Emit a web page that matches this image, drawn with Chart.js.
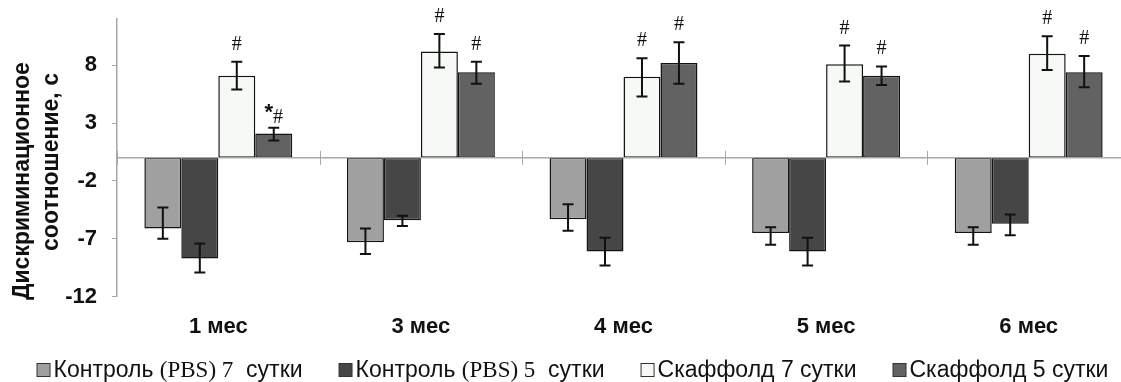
<!DOCTYPE html>
<html>
<head>
<meta charset="utf-8">
<script src="https://cdn.jsdelivr.net/npm/chart.js@4.4.0/dist/chart.umd.min.js"></script>
<style>
  html, body { margin: 0; padding: 0; background: #ffffff; overflow: hidden; }
  #wrap { width: 1135px; height: 382px; }
</style>
</head>
<body>
<div id="wrap"><canvas id="c" width="1135" height="382"></canvas></div>
<script>
// ---- data ----
const categories = ['1 мес', '3 мес', '4 мес', '5 мес', '6 мес'];
const yTicks = [-12, -7, -2, 3, 8];

const control7 = [-6.1, -7.3, -5.3, -6.5, -6.5];
const control5 = [-8.7, -5.4, -8.1, -8.1, -5.7];
const scaffold7 = [7.1, 9.2, 7.0, 8.1, 9.0];
const scaffold5 = [2.1, 7.4, 8.2, 7.1, 7.4];

// error bar ends (upper / lower)
const control7Hi = [-4.3, -6.1, -4.0, -6.0, -6.0];
const control7Lo = [-7.0, -8.3, -6.3, -7.5, -7.5];
const control5Hi = [-7.4, -5.0, -6.9, -6.9, -4.9];
const control5Lo = [-9.9, -5.9, -9.3, -9.3, -6.7];
const scaffold7Hi = [8.3, 10.7, 8.6, 9.7, 10.5];
const scaffold7Lo = [5.9, 7.8, 5.3, 6.6, 7.6];
const scaffold5Hi = [2.6, 8.3, 10.0, 7.9, 8.8];
const scaffold5Lo = [1.5, 6.4, 6.4, 6.3, 6.1];

// significance marks
const scaffold7Sig = ['#', '#', '#', '#', '#'];
const scaffold5Sig = ['*#', '#', '#', '#', '#'];

const yTitleLines = ['Дискриминационное', 'соотношение, с'];
const legendItems = [
  [['Контроль ', 'sans'], ['(PBS) 7', 'serif'], ['  сутки', 'sans']],
  [['Контроль ', 'sans'], ['(PBS) 5', 'serif'], ['  сутки', 'sans']],
  [['Скаффолд 7 сутки', 'sans']],
  [['Скаффолд 5 сутки', 'sans']]
];

const colors = ['#a0a0a0', '#464646', '#f7f9f7', '#626262'];
const errHi = [control7Hi, control5Hi, scaffold7Hi, scaffold5Hi];
const errLo = [control7Lo, control5Lo, scaffold7Lo, scaffold5Lo];
const sigs = [null, null, scaffold7Sig, scaffold5Sig];

const SANS = '"Liberation Sans", Arial, sans-serif';
const SERIF = '"Liberation Serif", "Times New Roman", serif';
const AXIS_GRAY = '#a8a8a8';

const errorBarPlugin = {
  id: 'errorBars',
  afterDatasetsDraw(chart) {
    const ctx = chart.ctx;
    const ys = chart.scales.y;
    const xs = chart.scales.x;
    const area = chart.chartArea;
    const zero = ys.getPixelForValue(0);
    // zero axis line with category boundary ticks
    ctx.save();
    ctx.strokeStyle = AXIS_GRAY;
    ctx.lineWidth = 1.5;
    ctx.beginPath();
    ctx.moveTo(area.left, zero);
    ctx.lineTo(area.right, zero);
    ctx.stroke();
    ctx.lineWidth = 1;
    const n = categories.length;
    const cw = (area.right - area.left) / n;
    for (let i = 0; i <= n; i++) {
      const x = Math.round(xs.getPixelForValue(0) - cw / 2 + i * cw) + 0.5;
      ctx.beginPath();
      ctx.moveTo(x, zero - 7);
      ctx.lineTo(x, zero + 7);
      ctx.stroke();
    }
    ctx.restore();

    ctx.save();
    ctx.strokeStyle = '#111111';
    ctx.lineWidth = 2;
    chart.data.datasets.forEach((ds, d) => {
      const meta = chart.getDatasetMeta(d);
      meta.data.forEach((el, i) => {
        const x = el.x;
        const yh = ys.getPixelForValue(errHi[d][i]);
        const yl = ys.getPixelForValue(errLo[d][i]);
        const cap = 5.5;
        ctx.beginPath();
        ctx.moveTo(x, yh); ctx.lineTo(x, yl);
        ctx.moveTo(x - cap, yh); ctx.lineTo(x + cap, yh);
        ctx.moveTo(x - cap, yl); ctx.lineTo(x + cap, yl);
        ctx.stroke();
        const s = sigs[d] ? sigs[d][i] : '';
        if (s) {
          ctx.fillStyle = '#111111';
          ctx.textBaseline = 'alphabetic';
          const base = yh - 12;
          if (s.startsWith('*')) {
            ctx.font = 'bold 22px ' + SANS;
            const wStar = ctx.measureText('*').width;
            ctx.font = '20px ' + SERIF;
            const wHash = ctx.measureText('#').width;
            const start = x - (wStar + wHash) / 2;
            ctx.font = 'bold 22px ' + SANS;
            ctx.textAlign = 'left';
            ctx.fillText('*', start, base + 3);
            ctx.font = '20px ' + SERIF;
            ctx.fillText('#', start + wStar, base + 7);
          } else {
            ctx.font = '20px ' + SERIF;
            ctx.textAlign = 'center';
            ctx.fillText(s, x, base);
          }
        }
      });
    });
    ctx.restore();
  },
  afterDraw(chart) {
    const ctx = chart.ctx;
    // y axis title (two rotated lines)
    ctx.save();
    ctx.fillStyle = '#111111';
    ctx.font = 'bold 23px ' + SANS;
    ctx.textAlign = 'center';
    ctx.textBaseline = 'alphabetic';
    const centers = [181, 162];
    const baselines = [29, 58];
    yTitleLines.forEach((t, k) => {
      ctx.save();
      ctx.translate(baselines[k], centers[k]);
      ctx.rotate(-Math.PI / 2);
      ctx.fillText(t, 0, 0);
      ctx.restore();
    });
    ctx.restore();

    // legend
    ctx.save();
    const fs = 23;
    const fontFor = (kind) => (kind === 'serif' ? fs + 'px ' + SERIF : fs + 'px ' + SANS);
    const box = 13, boxGap = 4, itemGap = 36;
    const widths = legendItems.map(segs => segs.reduce((w, sg) => { ctx.font = fontFor(sg[1]); return w + ctx.measureText(sg[0]).width; }, 0));
    const total = widths.reduce((a, w) => a + box + boxGap + w, 0) + itemGap * (legendItems.length - 1);
    let x = 572.5 - total / 2;
    const baseY = 377;
    legendItems.forEach((segs, k) => {
      ctx.fillStyle = colors[k];
      ctx.fillRect(x + 0.5, baseY - 13.5, box, box);
      ctx.strokeStyle = '#333333';
      ctx.lineWidth = 1;
      ctx.strokeRect(x + 0.5, baseY - 13.5, box, box);
      let tx = x + box + boxGap;
      ctx.fillStyle = '#111111';
      ctx.textAlign = 'left';
      ctx.textBaseline = 'alphabetic';
      segs.forEach(sg => {
        ctx.font = fontFor(sg[1]);
        ctx.fillText(sg[0], tx, baseY);
        tx += ctx.measureText(sg[0]).width;
      });
      x += box + boxGap + widths[k] + itemGap;
    });
    ctx.restore();
  }
};

const seriesNames = ['Контроль (PBS) 7  сутки', 'Контроль (PBS) 5  сутки', 'Скаффолд 7 сутки', 'Скаффолд 5 сутки'];
const seriesValues = [control7, control5, scaffold7, scaffold5];

new Chart(document.getElementById('c'), {
  type: 'bar',
  data: {
    labels: categories,
    datasets: seriesValues.map((vals, k) => ({
      label: seriesNames[k],
      data: vals,
      backgroundColor: colors[k],
      borderColor: '#141414',
      borderWidth: 1.5,
      borderSkipped: false,
      categoryPercentage: 0.73,
      barPercentage: 1.0
    }))
  },
  options: {
    responsive: false,
    devicePixelRatio: 1,
    animation: false,
    layout: { padding: { left: 0, right: 5, top: 19, bottom: 0 } },
    plugins: { legend: { display: false }, tooltip: { enabled: false } },
    scales: {
      x: {
        type: 'category',
        offset: true,
        grid: { display: false, drawTicks: false },
        border: { display: false },
        ticks: { color: '#111111', font: { family: SANS, size: 22, weight: 'bold' }, padding: 17, maxRotation: 0, autoSkip: false },
        afterFit(scale) { scale.height = 85.3; scale.paddingLeft = 0; scale.paddingRight = 0; }
      },
      y: {
        min: -12,
        max: 12,
        afterBuildTicks(scale) { scale.ticks = yTicks.map(v => ({ value: v })); },
        grid: { drawOnChartArea: false, drawTicks: true, tickLength: 5, color: AXIS_GRAY },
        border: { display: true, color: AXIS_GRAY, width: 1.5 },
        ticks: { color: '#111111', font: { family: SANS, size: 22, weight: 'bold' }, padding: 15 },
        afterFit(scale) { scale.width = 117; scale.paddingTop = 0; scale.paddingBottom = 0; }
      }
    }
  },
  plugins: [errorBarPlugin]
});
</script>
</body>
</html>
